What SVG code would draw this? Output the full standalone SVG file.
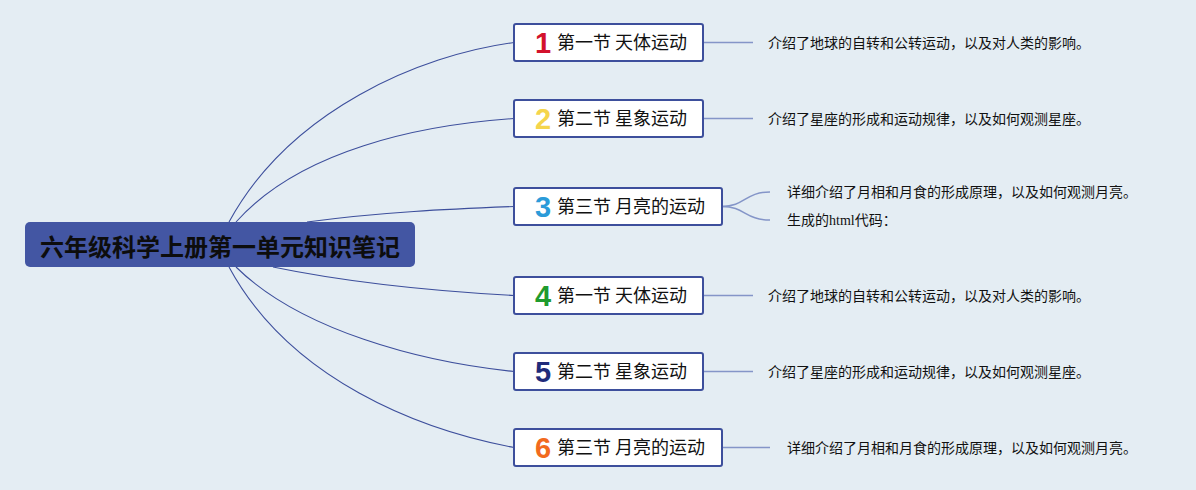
<svg xmlns="http://www.w3.org/2000/svg" width="1196" height="490" viewBox="0 0 1196 490">
<style>
.bg{fill:#e4edf3}
.main{fill:none;stroke:#3d4f9c;stroke-width:1.1}
.sub{fill:none;stroke:#8495c8;stroke-width:1.5}
.box{fill:#ffffff;stroke:#3d4f9c;stroke-width:2}
.num{font-family:"Liberation Sans",Arial,sans-serif;font-weight:bold;font-size:29px;text-anchor:middle}
.lbl{font-family:"Noto Sans CJK SC",sans-serif;font-size:18px;fill:#111}
.desc{font-family:"Liberation Serif","Noto Sans CJK SC",serif;font-size:14px;fill:#111}
.root{font-family:"Noto Sans CJK SC",sans-serif;font-size:24px;font-weight:bold;fill:#0d0d0d;text-anchor:middle}
</style>
<rect class="bg" x="0" y="0" width="1196" height="490"/>
<g id="connectors">
<path class="main" d="M229,222 C290,110 420,55 514,42.5"/>
<path class="main" d="M236,222 C300,150 420,125 514,118.5"/>
<path class="main" d="M307,222 C380,212 450,209 514,206.5"/>
<path class="main" d="M273,267 C360,285 450,292 514,295.5"/>
<path class="main" d="M236,267 C300,330 420,362 514,371.5"/>
<path class="main" d="M229,267 C290,380 420,430 514,447.5"/>
<path class="sub" d="M703,42.5 H753"/>
<path class="sub" d="M703,118.5 H753"/>
<path class="sub" d="M722,206.5 C745,206.5 745,192 770,192"/>
<path class="sub" d="M722,206.5 C745,206.5 745,220 770,220"/>
<path class="sub" d="M703,295.5 H753"/>
<path class="sub" d="M703,371.5 H753"/>
<path class="sub" d="M722,447.5 H770"/>
</g>
<g id="root">
<rect x="25" y="222" width="390" height="45" rx="5" fill="#4356a3"/>
<text class="root" x="220" y="256">六年级科学上册第一单元知识笔记</text>
</g>
<g id="node1">
<rect class="box" x="514" y="24" width="189" height="37" rx="2"/>
<text class="num" x="543" y="53" fill="#d3122c">1</text>
<text class="lbl" x="557" y="48.5">第一节 天体运动</text>
</g>
<g id="node2">
<rect class="box" x="514" y="100" width="189" height="37" rx="2"/>
<text class="num" x="543" y="129" fill="#f5d54c">2</text>
<text class="lbl" x="557" y="124.5">第二节 星象运动</text>
</g>
<g id="node3">
<rect class="box" x="514" y="188" width="208" height="37" rx="2"/>
<text class="num" x="543" y="217" fill="#2b9bd9">3</text>
<text class="lbl" x="557" y="212.5">第三节 月亮的运动</text>
</g>
<g id="node4">
<rect class="box" x="514" y="277" width="189" height="37" rx="2"/>
<text class="num" x="543" y="306" fill="#1f9b2e">4</text>
<text class="lbl" x="557" y="301.5">第一节 天体运动</text>
</g>
<g id="node5">
<rect class="box" x="514" y="353" width="189" height="37" rx="2"/>
<text class="num" x="543" y="382" fill="#1f2b7a">5</text>
<text class="lbl" x="557" y="377.5">第二节 星象运动</text>
</g>
<g id="node6">
<rect class="box" x="514" y="429" width="208" height="37" rx="2"/>
<text class="num" x="543" y="458" fill="#f26a1e">6</text>
<text class="lbl" x="557" y="453.5">第三节 月亮的运动</text>
</g>
<g id="desc1"><text class="desc" x="768" y="47.5">介绍了地球的自转和公转运动，以及对人类的影响。</text></g>
<g id="desc2"><text class="desc" x="768" y="123.5">介绍了星座的形成和运动规律，以及如何观测星座。</text></g>
<g id="desc3a"><text class="desc" x="787" y="197">详细介绍了月相和月食的形成原理，以及如何观测月亮。</text></g>
<g id="desc3b"><text class="desc" x="787" y="225">生成的html代码：</text></g>
<g id="desc4"><text class="desc" x="768" y="300.5">介绍了地球的自转和公转运动，以及对人类的影响。</text></g>
<g id="desc5"><text class="desc" x="768" y="376.5">介绍了星座的形成和运动规律，以及如何观测星座。</text></g>
<g id="desc6"><text class="desc" x="787" y="452.5">详细介绍了月相和月食的形成原理，以及如何观测月亮。</text></g>
</svg>
